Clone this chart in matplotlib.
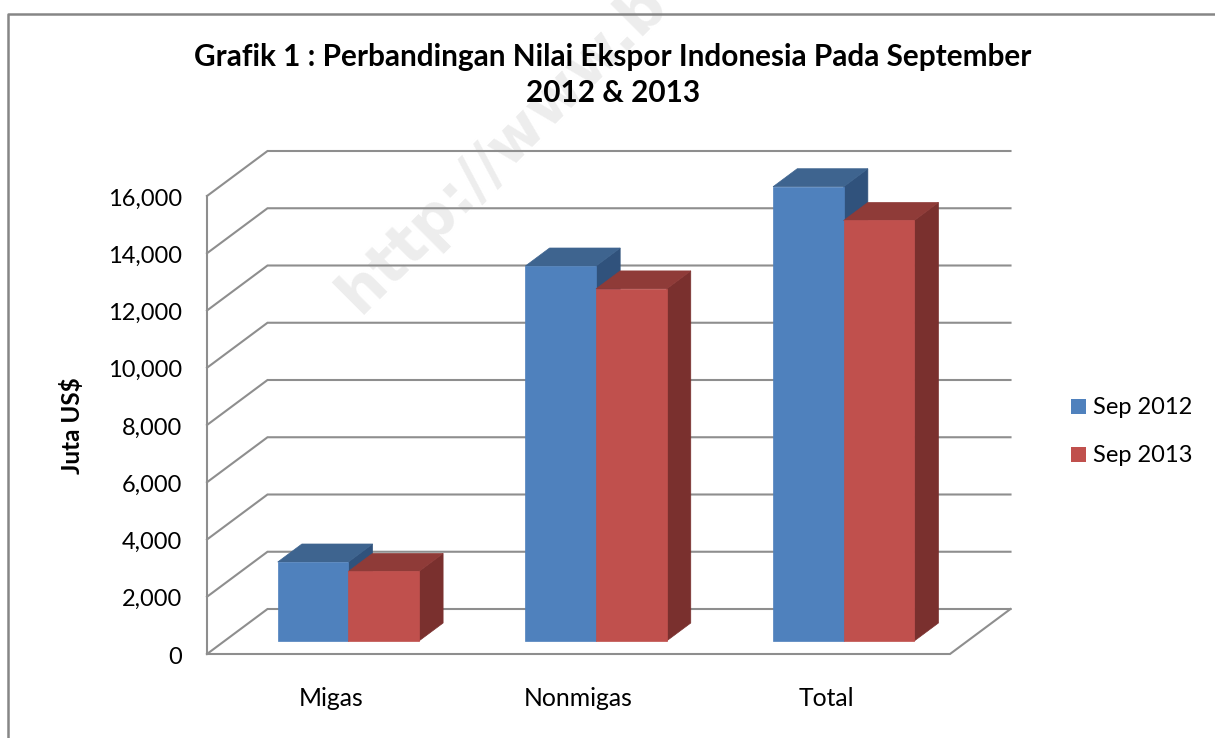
import matplotlib
matplotlib.use('Agg')
import matplotlib.pyplot as plt
from matplotlib.patches import Polygon
from matplotlib.transforms import ScaledTranslation

plt.rcParams['font.family'] = ['Lato', 'DejaVu Sans']

categories = ['Migas', 'Nonmigas', 'Total']
series_names = ['Sep 2012', 'Sep 2013']
sep_2012 = [2760, 13100, 15870]
sep_2013 = [2430, 12300, 14690]
y_ticks = [0, 2000, 4000, 6000, 8000, 10000, 12000, 14000, 16000]

front_colors = ['#4f81bd', '#c0504d']
top_colors = ['#3e648f', '#8f3b38']
side_colors = ['#30527c', '#7a302e']
grid_color = '#8e8e8e'

W, H = 1215, 738
fig = plt.figure(figsize=(W / 100, H / 100), dpi=100, facecolor='white')
ax = fig.add_axes([207 / W, 1 - 654 / H, 743 / W, 458 / H])
ax.set_xlim(0, 3)
ax.set_ylim(0, 16000)
ax.axis('off')
ax.patch.set_visible(False)

# depth of the fake 3d box, in data units
dx = 60.5 / 743 * 3
dy = 45 / 458 * 16000
bar_w = 0.285


def oblique(x, v, d):
    return (x + dx * d, v + dy * d)


def line(pts):
    ax.plot([p[0] for p in pts], [p[1] for p in pts], color=grid_color,
            lw=1.5, clip_on=False, zorder=2, solid_joinstyle='miter')


label_shift = ax.get_yaxis_transform() + ScaledTranslation(-25 / 100, -3 / 100, fig.dpi_scale_trans)
for v in y_ticks:
    line([oblique(0, v, 0), oblique(0, v, 1), oblique(3, v, 1)])
    ax.text(0, v, f'{v:,}', ha='right', va='center', fontsize=17,
            transform=label_shift, color='black')

line([oblique(0, 0, 0), oblique(0, 16000, 0)])
line([oblique(0, 0, 0), oblique(3, 0, 0), oblique(3, 0, 1)])

d0, d1 = 13 / 45, 31 / 45


def draw_bar(left, value, i, z):
    right = left + bar_w
    front = [oblique(left, 0, d0), oblique(right, 0, d0),
             oblique(right, value, d0), oblique(left, value, d0)]
    top = [oblique(left, value, d0), oblique(right, value, d0),
           oblique(right, value, d1), oblique(left, value, d1)]
    side = [oblique(right, 0, d0), oblique(right, 0, d1),
            oblique(right, value, d1), oblique(right, value, d0)]
    for pts, c in [(side, side_colors[i]), (top, top_colors[i]), (front, front_colors[i])]:
        ax.add_patch(Polygon(pts, closed=True, facecolor=c, edgecolor=c, lw=0.5,
                             clip_on=False, zorder=z))


for k, cat in enumerate(categories):
    c = k + 0.5
    draw_bar(c - bar_w, sep_2012[k], 0, 3 + k)
    draw_bar(c, sep_2013[k], 1, 3.5 + k)
    ax.text(c, -1540, cat, ha='center', va='center', fontsize=17.8, color='black')

# watermark, cut off by the top of the picture
fig.text(360 / W, 1 - 315 / H, 'http://www.b', rotation=45, ha='left', va='baseline',
         rotation_mode='anchor', fontsize=43, fontweight='bold', family='DejaVu Sans',
         color='#ededed', zorder=-1)

fig.text(613 / W, 1 - 75 / H, 'Grafik 1 : Perbandingan Nilai Ekspor Indonesia Pada September\n2012 & 2013',
         ha='center', va='center', fontsize=21.4, fontweight='bold', linespacing=1.38)
fig.text(72 / W, 1 - 426 / H, 'Juta US$', rotation=90, ha='center', va='center', fontsize=17.5, fontweight='bold')

# legend
for i, name in enumerate(series_names):
    y = 406 + i * 48
    fig.patches.append(plt.Rectangle((1071 / W, 1 - (y + 7.5) / H), 15 / W, 15 / H, transform=fig.transFigure,
                                     facecolor=front_colors[i], edgecolor='none'))
    fig.text(1093 / W, 1 - (y + 2) / H, name, ha='left', va='center', fontsize=17)

# frame of the chart object
fig.add_artist(plt.Line2D([7.5 / W, 7.5 / W, 1], [0, 1 - 14 / H, 1 - 14 / H], color='#868686', lw=1.8))

fig.savefig('out.png', dpi=100)
